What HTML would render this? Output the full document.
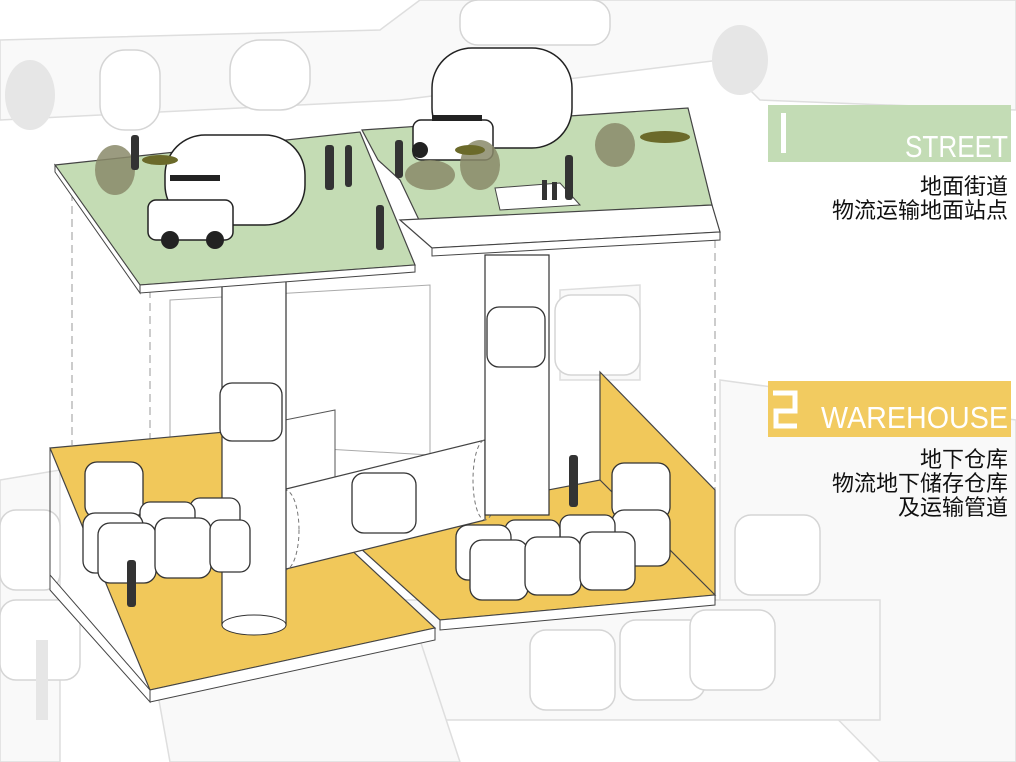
<!DOCTYPE html>
<html><head><meta charset="utf-8"><style>
html,body{margin:0;padding:0;background:#fff;width:1016px;height:762px;overflow:hidden}
svg{display:block}
.t{font-family:"Liberation Sans","Noto Sans CJK SC",sans-serif}
</style></head><body>
<svg width="1016" height="762" viewBox="0 0 1016 762" xmlns="http://www.w3.org/2000/svg">
<!-- background faint buildings -->
<g fill="#f9f9f9" stroke="#dedede" stroke-width="1.5">
<polygon points="0,40 380,30 420,0 1016,0 1016,110 760,100 720,60 400,100 0,120"/>
<polygon points="720,380 1016,420 1016,762 880,762 720,600"/>
<polygon points="0,480 60,470 60,762 0,762"/>
<polygon points="400,600 880,600 880,720 400,720"/>
<polygon points="150,650 420,640 460,762 170,762"/>
<polygon points="560,290 640,285 640,380 560,380"/>
</g>
<g fill="#fff" stroke="#d5d5d5" stroke-width="1.5">
<rect x="555" y="295" width="85" height="80" rx="16"/>
<rect x="735" y="515" width="85" height="80" rx="16"/>
<rect x="530" y="630" width="85" height="80" rx="16"/>
<rect x="620" y="620" width="85" height="80" rx="16"/>
<rect x="690" y="610" width="85" height="80" rx="16"/>
<rect x="0" y="510" width="60" height="80" rx="16"/>
<rect x="0" y="600" width="80" height="80" rx="16"/>
<rect x="100" y="50" width="60" height="80" rx="25"/>
<rect x="460" y="0" width="150" height="45" rx="18"/>
<rect x="230" y="40" width="80" height="70" rx="30"/>
</g>
<g fill="#e6e6e6"><ellipse cx="740" cy="60" rx="28" ry="35"/><ellipse cx="30" cy="95" rx="25" ry="35"/><rect x="36" y="640" width="12" height="80"/></g>
<!-- dashed verticals -->
<g stroke="#999" stroke-width="1" stroke-dasharray="8 5" fill="none">
<line x1="72" y1="180" x2="72" y2="445"/><line x1="150" y1="290" x2="150" y2="690"/>
<line x1="715" y1="240" x2="715" y2="490"/>
</g>
<!-- left warehouse back walls -->
<polygon points="170,300 430,285 430,455 170,440" fill="#fff" stroke="#aaa"/>
<polygon points="285,420 335,410 335,540 285,545" fill="#fff" stroke="#555"/>
<!-- yellow left floor -->
<polygon points="50,448 225,432 435,628 150,690" fill="#f1c85a" stroke="#444" stroke-width="1.2"/>
<polygon points="150,690 435,628 435,640 150,702" fill="#fff" stroke="#444"/>
<polygon points="50,448 50,575 150,690 150,702 50,590" fill="#fff" stroke="#444"/>
<!-- right warehouse -->
<polygon points="600,372 715,490 715,600 600,565" fill="#f1c85a" stroke="#444" stroke-width="1.2"/>
<polygon points="360,548 470,505 600,480 715,595 440,620" fill="#f1c85a" stroke="#444" stroke-width="1.2"/>
<polygon points="440,620 715,595 715,605 440,630" fill="#fff" stroke="#444"/>
<!-- horizontal tube -->
<polygon points="282,490 485,440 485,520 282,570" fill="#fff" stroke="#444" stroke-width="1.2"/>
<ellipse cx="285" cy="530" rx="14" ry="40" fill="none" stroke="#777" stroke-dasharray="4 3"/>
<ellipse cx="485" cy="480" rx="12" ry="40" fill="none" stroke="#777" stroke-dasharray="4 3"/>
<!-- columns -->
<rect x="222" y="280" width="64" height="345" fill="#fff" stroke="#333" stroke-width="1.2"/>
<ellipse cx="254" cy="625" rx="32" ry="10" fill="#fff" stroke="#333"/>
<rect x="485" y="255" width="64" height="260" fill="#fff" stroke="#333" stroke-width="1.2"/>
<!-- cubes -->
<g fill="#fff" stroke="#333" stroke-width="1.3">
<rect x="487" y="307" width="58" height="60" rx="12"/>
<rect x="220" y="383" width="62" height="58" rx="12"/>
<rect x="352" y="473" width="64" height="60" rx="12"/>
<rect x="85" y="462" width="58" height="56" rx="12"/>
<rect x="190" y="498" width="50" height="52" rx="10"/>
<rect x="140" y="502" width="55" height="52" rx="10"/>
<rect x="83" y="513" width="60" height="60" rx="12"/>
<rect x="98" y="523" width="58" height="60" rx="12"/>
<rect x="155" y="518" width="56" height="60" rx="12"/>
<rect x="210" y="520" width="40" height="52" rx="10"/>
<rect x="612" y="463" width="58" height="56" rx="12"/>
<rect x="612" y="510" width="58" height="56" rx="12"/>
<rect x="560" y="515" width="55" height="40" rx="10"/>
<rect x="505" y="520" width="55" height="40" rx="10"/>
<rect x="456" y="525" width="55" height="55" rx="12"/>
<rect x="470" y="540" width="58" height="60" rx="12"/>
<rect x="525" y="537" width="56" height="58" rx="12"/>
<rect x="580" y="532" width="55" height="58" rx="12"/>
</g>
<!-- street plates -->
<polygon points="55,165 360,132 415,265 140,285" fill="#c4dcb4" stroke="#444" stroke-width="1.2"/>
<polygon points="140,285 415,265 415,272 140,293" fill="#fff" stroke="#444"/>
<polygon points="55,165 55,172 140,293 140,285" fill="#fff" stroke="#444"/>
<polygon points="362,130 688,108 712,205 420,222 400,180 378,160" fill="#c4dcb4" stroke="#444" stroke-width="1.2"/>
<polygon points="495,188 560,183 580,205 500,210" fill="#fff" stroke="#444"/>
<polygon points="400,220 712,205 720,232 432,248" fill="#fff" stroke="#444" stroke-width="1.2"/>
<polygon points="432,248 720,232 720,240 432,256" fill="#fff" stroke="#444"/>
<!-- vehicles -->
<g fill="#fff" stroke="#222" stroke-width="1.5">
<rect x="165" y="135" width="140" height="90" rx="40"/>
<rect x="148" y="200" width="85" height="40" rx="8"/>
<rect x="432" y="48" width="140" height="100" rx="40"/>
<rect x="413" y="120" width="80" height="40" rx="8"/>
</g>
<g fill="#222"><rect x="170" y="175" width="50" height="6"/><rect x="432" y="115" width="50" height="6"/>
<circle cx="170" cy="240" r="9"/><circle cx="215" cy="240" r="9"/><circle cx="420" cy="150" r="8"/></g>
<!-- trees -->
<g fill="#8a8a6a" opacity="0.85"><ellipse cx="115" cy="170" rx="20" ry="25"/><ellipse cx="430" cy="175" rx="25" ry="15"/><ellipse cx="480" cy="165" rx="20" ry="25"/><ellipse cx="615" cy="145" rx="20" ry="22"/></g>
<g fill="#6b6a2a"><ellipse cx="160" cy="160" rx="18" ry="5"/><ellipse cx="665" cy="137" rx="25" ry="6"/><ellipse cx="470" cy="150" rx="15" ry="5"/></g>
<!-- people -->
<g fill="#333">
<rect x="131" y="135" width="8" height="35" rx="3"/><rect x="325" y="145" width="9" height="45" rx="3"/><rect x="345" y="145" width="7" height="42" rx="3"/>
<rect x="376" y="205" width="8" height="45" rx="3"/><rect x="395" y="140" width="8" height="38" rx="3"/><rect x="565" y="155" width="8" height="45" rx="3"/>
<rect x="127" y="560" width="9" height="47" rx="3"/><rect x="569" y="455" width="9" height="52" rx="3"/>
<rect x="542" y="180" width="5" height="20"/><rect x="552" y="182" width="5" height="18"/>
</g>
<!-- labels -->
<rect x="768" y="105" width="243" height="57" fill="#c3dcb5"/>
<rect x="781" y="113" width="5" height="40" fill="#fff"/>
<text x="905" y="157" textLength="103" lengthAdjust="spacingAndGlyphs" class="t" font-size="31" fill="#fff">STREET</text>
<text x="1008" y="194" text-anchor="end" class="t" font-size="22" fill="#111">地面街道</text>
<text x="1008" y="218" text-anchor="end" class="t" font-size="22" fill="#111">物流运输地面站点</text>
<rect x="768" y="381" width="243" height="56" fill="#f2cb60"/>
<path d="M773,393 H795 V411 H776 V426 H797" fill="none" stroke="#fff" stroke-width="5"/>
<text x="821" y="428" textLength="187" lengthAdjust="spacingAndGlyphs" class="t" font-size="31" fill="#fff">WAREHOUSE</text>
<text x="1008" y="467" text-anchor="end" class="t" font-size="22" fill="#111">地下仓库</text>
<text x="1008" y="491" text-anchor="end" class="t" font-size="22" fill="#111">物流地下储存仓库</text>
<text x="1008" y="515" text-anchor="end" class="t" font-size="22" fill="#111">及运输管道</text>
</svg>
</body></html>
